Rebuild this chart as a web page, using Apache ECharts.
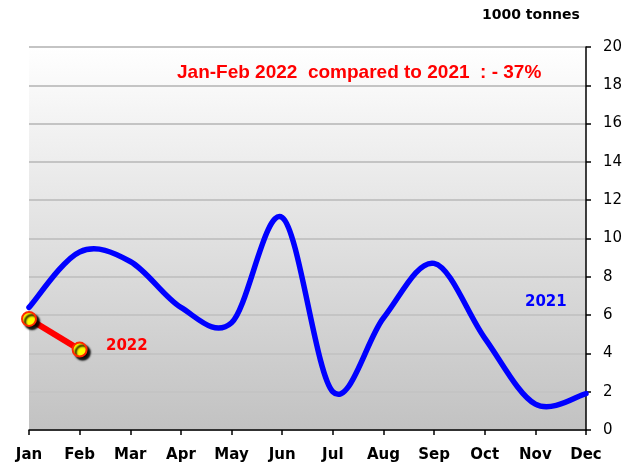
<!DOCTYPE html>
<html>
<head>
<meta charset="utf-8">
<script src="https://cdn.jsdelivr.net/npm/echarts@6/dist/echarts.min.js"></script>
<style>
  html, body { margin: 0; padding: 0; background: #ffffff; }
  #chart { width: 630px; height: 465px; }
</style>
</head>
<body>
<div id="chart"></div>
<script>
// Monthly volumes, in 1000 tonnes
const months = ['Jan', 'Feb', 'Mar', 'Apr', 'May', 'Jun', 'Jul', 'Aug', 'Sep', 'Oct', 'Nov', 'Dec'];
const values2021 = [6.4, 9.3, 8.8, 6.4, 5.6, 11.1, 2.0, 5.85, 8.7, 4.8, 1.35, 1.9];
const values2022 = [5.8, 4.2];
const yTicks = { min: 0, max: 20, interval: 2 };
const unitLabel = '1000 tonnes';
const headline = 'Jan-Feb 2022  compared to 2021  : - 37%';

const chart = echarts.init(document.getElementById('chart'), null, { renderer: 'canvas' });

const axisFont = 'DejaVu Sans, Verdana, sans-serif';

// Smooth curve through the monthly points (cardinal spline, bezier form).
function smoothPath(api) {
  const pts = values2021.map((v, i) => api.coord([i, v]));
  let d = 'M' + pts[0][0] + ' ' + pts[0][1];
  for (let i = 0; i < pts.length - 1; i++) {
    const p0 = pts[Math.max(i - 1, 0)];
    const p1 = pts[i];
    const p2 = pts[i + 1];
    const p3 = pts[Math.min(i + 2, pts.length - 1)];
    const c1 = [p1[0] + (p2[0] - p0[0]) / 6, p1[1] + (p2[1] - p0[1]) / 6];
    const c2 = [p2[0] - (p3[0] - p1[0]) / 6, p2[1] - (p3[1] - p1[1]) / 6];
    d += ' C' + c1[0] + ' ' + c1[1] + ' ' + c2[0] + ' ' + c2[1] + ' ' + p2[0] + ' ' + p2[1];
  }
  return d;
}

chart.setOption({
  animation: false,
  backgroundColor: '#ffffff',
  grid: {
    left: 29, right: 44, top: 47, bottom: 35,
    show: true,
    borderWidth: 0,
    backgroundColor: new echarts.graphic.LinearGradient(0, 0, 0, 1, [
      { offset: 0, color: '#ffffff' },
      { offset: 1, color: '#c2c2c2' }
    ])
  },
  xAxis: {
    type: 'category',
    data: months,
    boundaryGap: false,
    axisLine: { lineStyle: { color: '#000000', width: 1.5 } },
    axisTick: { show: true, length: 5, alignWithLabel: true, lineStyle: { color: '#000000', width: 1.5 } },
    axisLabel: { color: '#000000', fontFamily: axisFont, fontWeight: 'bold', fontSize: 15, margin: 18 },
    splitLine: { show: false }
  },
  yAxis: {
    type: 'value',
    position: 'right',
    min: yTicks.min, max: yTicks.max, interval: yTicks.interval,
    axisLine: { show: true, lineStyle: { color: '#000000', width: 1.5 } },
    axisTick: { show: true, length: 5, lineStyle: { color: '#000000', width: 1.5 } },
    axisLabel: { color: '#000000', fontFamily: axisFont, fontSize: 15, margin: 17 },
    splitLine: { show: true, lineStyle: { color: '#c4c4c4', width: 2 } }
  },
  series: [
    {
      name: '2021',
      type: 'custom',
      data: values2021.map((v, i) => [i, v]),
      clip: false,
      renderItem: function (params, api) {
        if (params.dataIndex !== 0) return null;
        return {
          type: 'path',
          shape: { pathData: smoothPath(api) },
          style: { fill: 'none', stroke: '#0000ff', lineWidth: 5.5, lineJoin: 'round', lineCap: 'round' }
        };
      },
      z: 2
    },
    {
      name: '2022',
      type: 'line',
      data: values2022,
      clip: false,
      symbol: 'circle',
      symbolSize: 14,
      lineStyle: { color: '#ff0000', width: 6 },
      itemStyle: {
        color: '#ffff00',
        borderColor: '#ff2a00',
        borderWidth: 2,
        shadowColor: 'rgba(0,0,0,0.95)',
        shadowBlur: 2,
        shadowOffsetX: 3,
        shadowOffsetY: 3
      },
      z: 3
    }
  ],
  graphic: [
    {
      type: 'text', left: 482, top: 8,
      style: { text: unitLabel, fill: '#000000', font: 'bold 14px ' + axisFont }
    },
    {
      type: 'text', left: 177, top: 63,
      style: { text: headline, fill: '#ff0000', font: 'bold 19px "Liberation Sans", Arial, sans-serif' }
    },
    {
      type: 'text', left: 525, top: 295,
      style: { text: '2021', fill: '#0000ff', font: 'bold 15px ' + axisFont }
    },
    {
      type: 'text', left: 106, top: 339,
      style: { text: '2022', fill: '#ff0000', font: 'bold 15px ' + axisFont }
    }
  ]
});
</script>
</body>
</html>
